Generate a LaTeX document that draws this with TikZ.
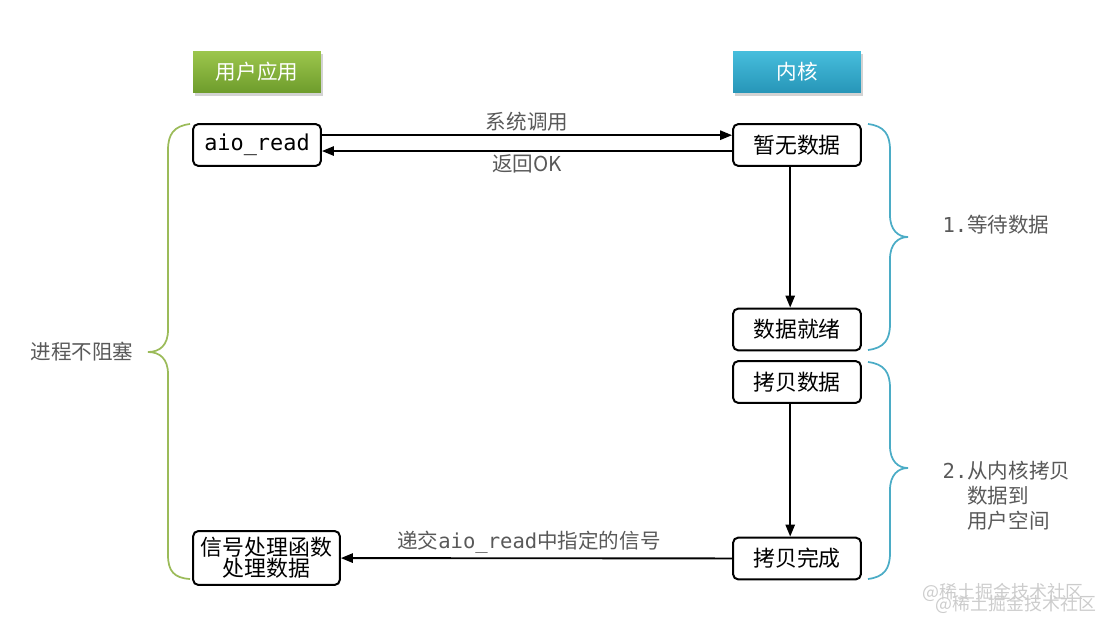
\documentclass[tikz,border=0pt]{standalone}
\usepackage{fontspec}
\setmainfont{Noto Sans CJK SC}
\newfontfamily\codefont{DejaVu Sans Mono}
\usepackage{tikz}
\usetikzlibrary{arrows.meta,positioning,shadows}
\definecolor{labelgray}{HTML}{595959}
\definecolor{braceg}{HTML}{9BBB59}
\definecolor{braceb}{HTML}{4BACC6}
\definecolor{headgtop}{HTML}{9CC64C}
\definecolor{headgbot}{HTML}{6E9C2C}
\definecolor{headbtop}{HTML}{46BEDC}
\definecolor{headbbot}{HTML}{2795B8}

\begin{document}
\begin{tikzpicture}
[x=0.0265cm,y=-0.0265cm,
 head/.style={minimum width=3.39cm,minimum height=1.09cm,text=white,font=\fontsize{15.5}{18}\selectfont,
   drop shadow={opacity=0.35,shadow xshift=0.06cm,shadow yshift=-0.08cm}},
 step box/.style={draw=black,line width=1.5pt,rounded corners=4pt,minimum width=3.39cm,minimum height=1.11cm,
   font=\fontsize{16.5}{19}\selectfont,fill=white},
 arr/.style={-{Triangle[length=9pt,width=7pt]},line width=1.4pt},
 lbl/.style={text=labelgray,font=\fontsize{15.5}{18}\selectfont},
 brace/.style={line width=1.3pt}]
\useasboundingbox (0,0) rectangle (1103,622);

% headers
\node[head,top color=headgtop,bottom color=headgbot] (app) at (257,72) {用户应用};
\node[head,top color=headbtop,bottom color=headbbot] (kernel) at (797,72) {内核};

% user side
\node[step box] (aio) at (257,145) {\codefont aio\_read};
\node[step box,minimum width=3.89cm,minimum height=1.43cm,align=center,inner sep=2pt] (handler) at (266.5,558) {信号处理函数\\[-3pt]处理数据};

% kernel side
\node[step box] (nodata) at (797,145) {暂无数据};
\node[step box] (ready) at (797,329.5) {数据就绪};
\node[step box] (copy) at (797,382) {拷贝数据};
\node[step box] (done) at (797,558.5) {拷贝完成};

\draw[arr] ([yshift=0.26cm]aio.east) -- node[lbl,above=-1pt] {系统调用} ([yshift=0.26cm]nodata.west);
\draw[arr] ([yshift=-0.16cm]nodata.west) -- node[lbl,below=-1pt] {返回OK} ([yshift=-0.16cm]aio.east);
\draw[arr] ([xshift=-0.18cm]nodata.south) -- ([xshift=-0.18cm]ready.north);
\draw[arr] ([xshift=-0.18cm]copy.south) -- ([xshift=-0.18cm]done.north);
\draw[arr] (done) -- node[lbl,above=0pt,xshift=-0.2cm] {递交{\codefont aio\_read}中指定的信号} (handler);

% braces
\draw[brace,braceg] (190,124) .. controls (174,126) and (168,134) .. (168,150) -- (168,330)
  .. controls (168,345) and (160,352) .. (148,352) .. controls (160,352) and (168,359) .. (168,374)
  -- (168,555) .. controls (168,571) and (174,578) .. (190,579);
\draw[brace,braceb] (868,124) .. controls (884,126) and (890,134) .. (890,150) -- (890,215)
  .. controls (890,230) and (898,237) .. (908,237) .. controls (898,237) and (890,244) .. (890,259)
  -- (890,324) .. controls (890,340) and (884,348) .. (868,350);
\draw[brace,braceb] (868,362) .. controls (884,364) and (890,372) .. (890,388) -- (890,446)
  .. controls (890,461) and (898,468) .. (908,468) .. controls (898,468) and (890,475) .. (890,490)
  -- (890,553) .. controls (890,569) and (884,577) .. (868,579);

\node[lbl] (wait) at (996,225) {{\codefont 1.}等待数据};
\node[lbl,align=left,anchor=west] (copytxt) at (938,496) {{\codefont 2.}从内核拷贝\\[1pt]\phantom{\codefont 2.}数据到\\[1pt]\phantom{\codefont 2.}用户空间};
\node[lbl] (noblock) at (82,352) {进程不阻塞};

% watermark
\node[text=gray!40,font=\fontsize{13.5}{16}\selectfont] (wm1) at (1003,592) {@稀土掘金技术社区};
\node[text=gray!40,font=\fontsize{13.5}{16}\selectfont] (wm2) at (1016,604) {@稀土掘金技术社区};
\end{tikzpicture}
\end{document}
